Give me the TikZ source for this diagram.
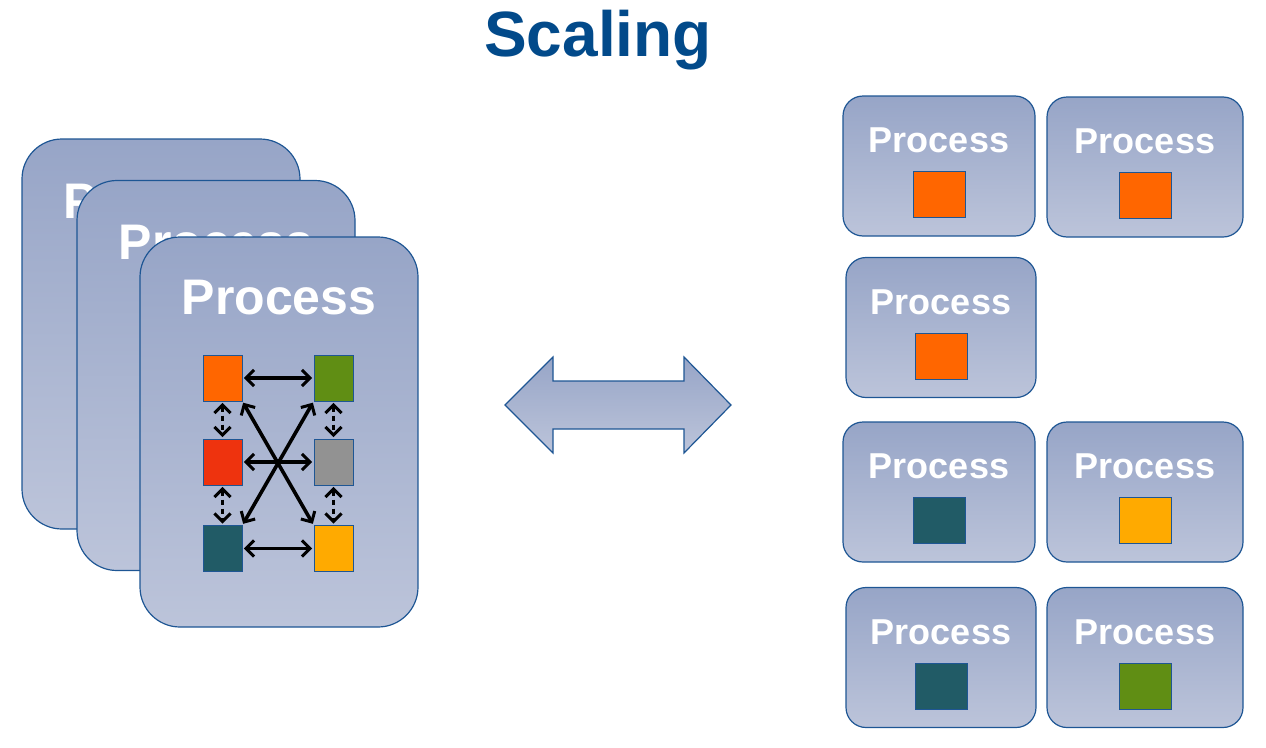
\documentclass[tikz,border=0pt]{standalone}
\usepackage{fontspec}
\setmainfont{Liberation Sans}
\usetikzlibrary{arrows.meta,positioning}

\definecolor{cardtop}{RGB}{151,165,199}
\definecolor{cardbot}{RGB}{188,196,218}
\definecolor{cardline}{RGB}{30,86,148}
\definecolor{titleblue}{RGB}{2,74,138}
\definecolor{sqorange}{RGB}{255,102,0}
\definecolor{sqgreen}{RGB}{96,142,20}
\definecolor{sqred}{RGB}{238,51,14}
\definecolor{sqgray}{RGB}{146,146,146}
\definecolor{sqteal}{RGB}{33,91,102}
\definecolor{sqamber}{RGB}{255,170,0}

\begin{document}
\begin{tikzpicture}[
  x=1pt, y=-1pt,
  card/.style    = {draw=cardline, line width=1.2pt, rounded corners=20pt,
                    top color=cardtop, bottom color=cardbot,
                    inner sep=0pt, minimum width=192pt, minimum height=140pt},
  bigcard/.style = {card, rounded corners=40pt,
                    minimum width=278pt, minimum height=390pt},
  proc/.style    = {text=white, font=\bfseries\fontsize{36}{40}\selectfont, inner sep=0pt},
  bigproc/.style = {proc, font=\bfseries\fontsize{50}{56}\selectfont},
  sq/.style      = {draw=cardline, line width=0.8pt, inner sep=0pt,
                    minimum width=52pt, minimum height=46pt},
  smallsq/.style = {sq, minimum width=39pt, minimum height=46pt},
  link/.style    = {{Straight Barb[length=8pt,width=16pt,line width=3pt]}-{Straight Barb[length=8pt,width=16pt,line width=3pt]},
                    line width=3.6pt, shorten <=1.5pt, shorten >=1.5pt},
  dlink/.style   = {link, dash pattern=on 5pt off 4pt},
]
\useasboundingbox (0,0) rectangle (1266,747);

% ── Title ───────────────────────────────────────────────────────────────────
\node[text=titleblue, font=\bfseries\fontsize{64}{70}\selectfont] (title)
  at (598,40) {Scaling};

% ── Left: stack of processes ────────────────────────────────────────────────
\node[bigcard] (c1) at (161,334) {};
\node[bigproc] (t1) at ([yshift=-63pt]c1.north) {Process};
\node[bigcard] (c2) at (216,375.5) {};
\node[bigproc] (t2) at ([yshift=-63pt]c2.north) {Process};
\node[bigcard] (c3) at (279,432) {};
\node[bigproc] (t3) at ([yshift=-61pt]c3.north) {Process};

% squares inside the front process
\node[smallsq, fill=sqorange] (so) at (222.5,378) {};
\node[smallsq, fill=sqgreen]  (sg) at (333.5,378) {};
\node[smallsq, fill=sqred]    (sr) at (222.5,462) {};
\node[smallsq, fill=sqgray]   (sy) at (333.5,462) {};
\node[smallsq, fill=sqteal]   (st) at (222.5,548.5) {};
\node[smallsq, fill=sqamber]  (sa) at (333.5,548.5) {};

\draw[link]  (so) -- (sg);
\draw[link]  (sr) -- (sy);
\draw[link]  (st) -- (sa);
\draw[dlink] (so) -- (sr);
\draw[dlink] (sr) -- (st);
\draw[dlink] (sg) -- (sy);
\draw[dlink] (sy) -- (sa);
\draw[link]  (so.south east) -- (sa.north west);
\draw[link]  (sg.south west) -- (st.north east);

% ── Middle: double arrow ────────────────────────────────────────────────────
\shade[top color=cardtop, bottom color=cardbot, draw=cardline, line width=1.2pt]
  (505,405) -- (553,357) -- (553,381) -- (684,381) -- (684,357) -- (731,405)
  -- (684,453) -- (684,429) -- (553,429) -- (553,453) -- cycle;

% ── Right: single processes ─────────────────────────────────────────────────
\foreach \nm/\xc/\yc/\cw/\col in {
    pa/939/166/192/sqorange, pb/1145/167/196/sqorange,
    pc/941/327.5/190/sqorange,
    pd/939/492/192/sqteal,   pe/1145/492/196/sqamber,
    pf/941/657.5/190/sqteal, pg/1145/657.5/196/sqgreen} {
  \node[card, minimum width=\cw pt] (\nm) at (\xc,\yc) {};
  \node[proc] (\nm-t) at ([yshift=-45pt]\nm.north) {Process};
  \node[sq, fill=\col] (\nm-s) at ([yshift=-99pt]\nm.north) {};
}

\end{tikzpicture}
\end{document}
